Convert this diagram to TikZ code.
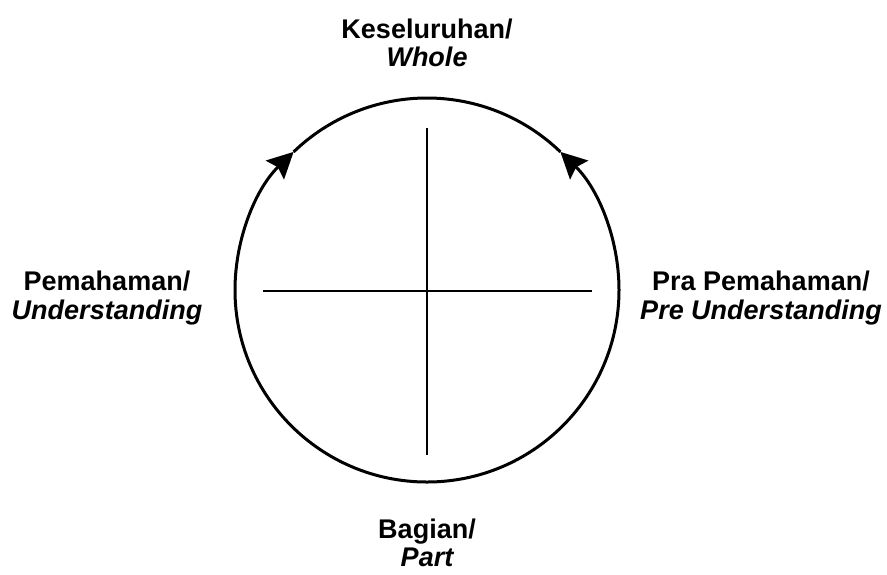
\documentclass[tikz,border=0pt]{standalone}
\usepackage{fontspec}
\setmainfont{Liberation Sans}
\usetikzlibrary{arrows.meta}
\begin{document}
\begin{tikzpicture}[x=0.5pt, y=-0.5pt, >={Stealth[length=13pt,width=13pt,inset=2pt]},
      lbl/.style={align=center, font=\fontsize{13.5}{14.2}\selectfont\bfseries, inner sep=0pt},
      ring/.style={line width=1.5pt},
      axis/.style={line width=1pt}]
    \useasboundingbox (0,0) rectangle (887,574);
    \coordinate (c) at (427,290);
    \draw[ring, ->] (c) ++(90:192) arc[start angle=90, end angle=226, radius=192];
    \draw[ring] (c) ++(226:192) arc[start angle=226, end angle=270, radius=192];
    \draw[ring, ->] (c) ++(90:192) arc[start angle=90, end angle=-46, radius=192];
    \draw[ring] (c) ++(-46:192) arc[start angle=-46, end angle=-90, radius=192];
    \coordinate (vt) at (427,128);
    \coordinate (vb) at (427,455);
    \coordinate (hl) at (263,291);
    \coordinate (hr) at (592,291);
    \draw[axis] (vt) -- (vb);
    \draw[axis] (hl) -- (hr);
    \node[lbl] (whole) at (427,43) {Keseluruhan/\\ \itshape Whole};
    \node[lbl] (und) at (107,298) {Pemahaman/\\ \itshape Understanding};
    \node[lbl] (pre) at (761,298) {Pra Pemahaman/\\ \itshape Pre Understanding};
    \node[lbl] (part) at (427,543) {Bagian/\\ \itshape Part};
  \end{tikzpicture}
\end{document}
